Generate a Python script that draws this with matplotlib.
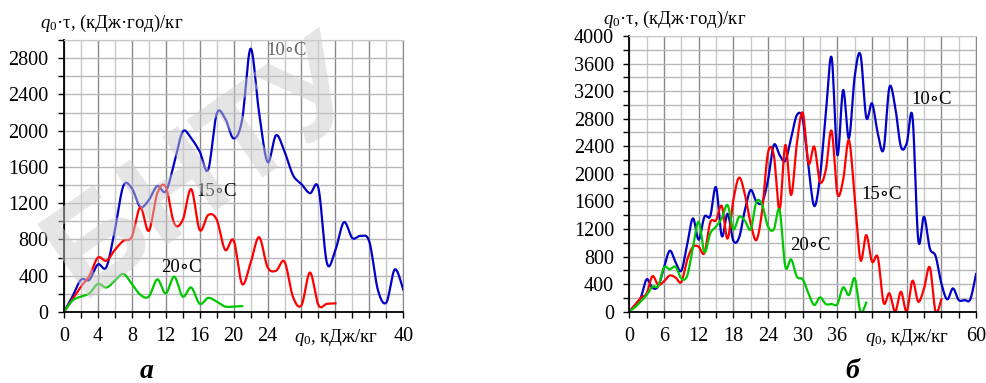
import numpy as np
import matplotlib
matplotlib.use('Agg')
import matplotlib.pyplot as plt

plt.rcParams['font.family'] = ['Liberation Serif', 'DejaVu Serif']
plt.rcParams['mathtext.fontset'] = 'custom'
plt.rcParams['mathtext.rm'] = 'Liberation Serif'
plt.rcParams['mathtext.it'] = 'Liberation Serif:italic'
plt.rcParams['mathtext.bf'] = 'Liberation Serif:bold'

# ---- panel a, q0 step 1 kJ/kg ----
q_a_10 = list(range(0, 41))
val_a_10 = [0, 170, 355, 355, 525, 495, 905, 1390, 1365, 1160, 1235, 1390, 1330, 1640, 1990, 1915,
            1770, 1570, 2185, 2135, 1915, 2120, 2905, 2200, 1655, 1950, 1770, 1510, 1410, 1310, 1365,
            540, 685, 990, 815, 840, 775, 245, 105, 470, 245]
q_a_15 = list(range(0, 33))
val_a_15 = [0, 140, 280, 400, 600, 565, 685, 785, 830, 1155, 895, 1310, 1380, 975, 1015, 1355, 905,
            1070, 1020, 685, 790, 310, 540, 825, 495, 455, 555, 165, 75, 435, 75, 90, 95]
q_a_20 = list(range(0, 22))
val_a_20 = [0, 125, 170, 205, 310, 270, 345, 420, 310, 190, 170, 360, 205, 390, 170, 270, 90, 155,
            115, 60, 60, 65]

# ---- panel б ----
q_b_10 = list(range(0, 61))
val_b_10 = [0, 100, 210, 470, 345, 370, 640, 885, 720, 595, 970, 1354, 1045, 1378, 1385, 1805, 1098,
            1420, 1030, 1075, 1475, 1765, 1596, 1590, 1910, 2418, 2273, 2190, 2520, 2853, 2790, 2103,
            1533, 1958, 2877, 3690, 2273, 3216, 2515, 3409, 3730, 2819, 3022, 2587, 2355, 3254, 2974,
            2393, 2442, 2829, 1040, 1378, 919, 807, 411, 179, 338, 169, 169, 179, 546]
q_b_15 = list(range(0, 55))
val_b_15 = [0, 97, 200, 266, 515, 390, 440, 525, 495, 430, 750, 938, 943, 850, 1295, 1325, 1533, 1060,
            1620, 1945, 1700, 1281, 1040, 1475, 2307, 2273, 1475, 2418, 1692, 2442, 2887, 2152, 2394,
            1886, 2055, 2626, 1717, 1910, 2490, 1660, 750, 1112, 725, 788, 131, 266, 0, 290, 0, 450,
            145, 338, 643, 0, 179]
q_b_20 = list(range(0, 42))
val_b_20 = [0, 65, 150, 242, 363, 375, 640, 617, 650, 484, 517, 930, 1306, 865, 1136, 1233, 1354, 1547,
            1194, 1378, 1320, 1194, 1596, 1547, 1233, 1194, 1475, 653, 759, 508, 469, 266, 97, 208, 111,
            111, 111, 353, 242, 484, 0, 131]

labels_t = ['10∘C', '15∘C', '20∘C']
colors = ['#0000c8', '#ff0000', '#00c800']


def smooth(x, y, n=24):
    # сглаживание как в Excel: кубические Безье через все точки
    x = np.asarray(x, float)
    y = np.asarray(y, float)
    px = np.concatenate([[x[0]], x, [x[-1]]])
    py = np.concatenate([[y[0]], y, [y[-1]]])
    t = np.linspace(0, 1, n)[:, None]
    xs, ys = [], []
    for i in range(1, len(px) - 2):
        p0 = np.array([px[i], py[i]])
        p3 = np.array([px[i + 1], py[i + 1]])
        c1 = p0 + (p3 - np.array([px[i - 1], py[i - 1]])) / 6.0
        c2 = p3 - (np.array([px[i + 2], py[i + 2]]) - p0) / 6.0
        b = (1 - t) ** 3 * p0 + 3 * (1 - t) ** 2 * t * c1 + 3 * (1 - t) * t ** 2 * c2 + t ** 3 * p3
        xs.append(b[:, 0])
        ys.append(b[:, 1])
    return np.concatenate(xs), np.concatenate(ys)


def oformit(ax, xmax, xstep, ymax, ylabels_max, hide):
    ax.set_xlim(0, xmax)
    ax.set_ylim(0, ymax)
    xmaj = np.arange(0, xmax + 1, xstep * 2)
    ax.set_xticks(xmaj)
    ax.set_xticks(np.arange(0, xmax + 1, xstep), minor=True)
    ax.set_xticklabels(['' if v in hide else str(v) for v in xmaj])
    ymaj = np.arange(0, ylabels_max + 1, 400)
    ax.set_yticks(ymaj)
    ax.set_yticks(np.arange(0, ymax + 1, 200), minor=True)
    ax.tick_params(which='both', direction='out', length=4, width=1, labelsize=14.5)
    ax.tick_params(axis='x', pad=7)
    ax.tick_params(axis='y', pad=7)
    ax.grid(which='major', axis='x', color='#8a8a8a', lw=1.0)
    ax.grid(which='minor', axis='x', color='#c8c8c8', lw=1.0)
    ax.grid(which='both', axis='y', color='#b8b8b8', lw=1.0)
    ax.set_axisbelow(True)
    ax.spines['left'].set_linewidth(1.3)
    ax.spines['bottom'].set_linewidth(1.3)
    ax.spines['right'].set_color('#8a8a8a')
    ax.spines['top'].set_color('#c8c8c8')


fig = plt.figure(figsize=(9.87, 3.83), dpi=100)
ax1 = fig.add_axes([0.0648, 0.1854, 0.3438, 0.710])
ax2 = fig.add_axes([0.6376, 0.1862, 0.3513, 0.7198])

for q, v, c in zip([q_a_10, q_a_15, q_a_20], [val_a_10, val_a_15, val_a_20], colors):
    xs, ys = smooth(q, v)
    ax1.plot(xs, ys, color=c, lw=1.6)
for q, v, c in zip([q_b_10, q_b_15, q_b_20], [val_b_10, val_b_15, val_b_20], colors):
    xs, ys = smooth(q, v)
    ax2.plot(xs, ys, color=c, lw=1.6)

oformit(ax1, 40, 2, 3000, 2800, [28, 32, 36])
oformit(ax2, 60, 3, 4000, 4000, [42, 48, 54])

# подписи кривых
ax1.text(26.2, 2890, labels_t[0], fontsize=13.5, ha='center', va='center', color='#666666')
ax1.text(18.0, 1334, labels_t[1], fontsize=13.5, ha='center', va='center')
ax1.text(13.9, 496, labels_t[2], fontsize=13.5, ha='center', va='center')
ax2.text(52.4, 3073, labels_t[0], fontsize=13.5, ha='center', va='center')
ax2.text(43.6, 1705, labels_t[1], fontsize=13.5, ha='center', va='center')
ax2.text(31.4, 965, labels_t[2], fontsize=13.5, ha='center', va='center')

yl = r'$q_0$·τ, (кДж·год)/кг'
xl = r'$q_0$, кДж/кг'
fig.text(40 / 987, 1 - 23 / 383, yl, fontsize=13.5, ha='left', va='center')
fig.text(603 / 987, 1 - 19 / 383, yl, fontsize=13.5, ha='left', va='center')
fig.text(336 / 987, 1 - 338 / 383, xl, fontsize=13.5, ha='center', va='center')
fig.text(907 / 987, 1 - 338 / 383, xl, fontsize=13.5, ha='center', va='center')

fig.text(147 / 987, 1 - 372 / 383, 'а', fontsize=20, fontweight='bold', fontstyle='italic',
         ha='center', va='center')
fig.text(852 / 987, 1 - 372 / 383, 'б', fontsize=20, fontweight='bold', fontstyle='italic',
         ha='center', va='center')

# водяной знак
fig.text(205 / 987, 1 - 170 / 383, 'БНТУ', fontsize=95, fontweight='bold', rotation=35,
         color='#cccccc', alpha=0.5, ha='center', va='center', zorder=10,
         family=['Liberation Sans', 'DejaVu Sans'])

plt.savefig('out.png', dpi=100)
